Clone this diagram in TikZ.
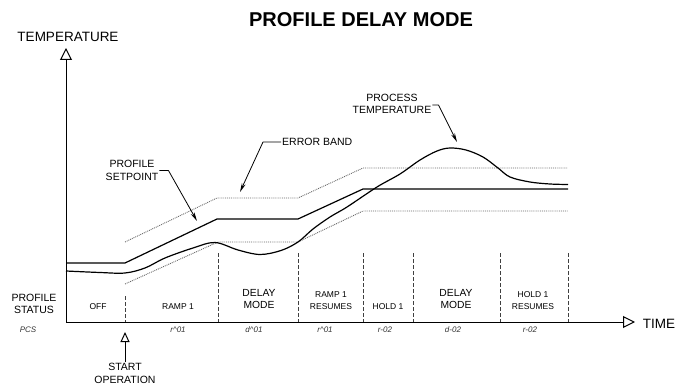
\documentclass[tikz,border=0pt]{standalone}
\usepackage{fontspec}
\setmainfont{Liberation Sans}
\usetikzlibrary{arrows.meta}

\begin{document}
\begin{tikzpicture}[x=1pt, y=-1pt, line join=round,
	axis/.style={line width=1pt, -{Triangle[open, length=12pt, width=12pt]}},
	setpt/.style={line width=1.2pt},
	band/.style={densely dotted, line width=0.9pt, black!60},
	phase/.style={dash pattern=on 4pt off 2pt, line width=1pt, black!75},
	leader/.style={line width=0.8pt, -{Stealth[length=9pt, width=4pt]}},
	lbl/.style={font=\fontsize{10.5}{12.5}\selectfont, align=center, inner sep=1pt},
	stat/.style={font=\fontsize{8.5}{12.5}\selectfont, align=center, inner sep=0pt},
	code/.style={font=\fontsize{8}{9}\selectfont\itshape, text=black!80, inner sep=0pt}]
	
	\useasboundingbox (0,0) rectangle (686,385);
	
	% 1. 标题与坐标轴
	\node[font=\bfseries\fontsize{20}{24}\selectfont] (title) at (361,20) {PROFILE DELAY MODE};
	\coordinate (origin) at (66,322);
	\coordinate (ytop) at (66,48);
	\coordinate (xend) at (635,322);
	\draw[axis] (origin) -- (ytop);
	\draw[axis] (origin) -- (xend);
	\node[font=\fontsize{13.5}{16}\selectfont] (templbl) at (68,37) {TEMPERATURE};
	\node[font=\fontsize{13.5}{16}\selectfont] (timelbl) at (659,324) {TIME};
	
	% 2. 误差带 (虚点线)
	\draw[band] (125,242) -- (217,198) -- (298,198) -- (363,168) -- (568,168);
	\draw[band] (125,284) -- (218,242) -- (298,242) -- (363,211) -- (568,211);
	
	% 3. 设定值与过程温度
	\draw[setpt] (66,263) -- (125,263) -- (217,219) -- (298,219) -- (363,189) -- (568,189);
	\draw[setpt] plot[smooth, tension=0.55] coordinates {
		(66,271) (100,272.5) (125,273) (145,268) (165,258) (193,248) (215,242.5)
		(238,250) (260,254.5) (281,250.5) (298,242) (313,229) (330,217) (347,207)
		(377,187) (400,174) (420,160) (437,151) (450,148) (466,150) (483,157)
		(498,168) (510,177) (530,182) (550,184) (568,184.5)};
	
	% 4. 阶段分隔虚线
	\foreach \xp in {218, 298, 363, 413, 500, 568}
		\draw[phase] (\xp,253) -- (\xp,322);
	\draw[phase] (125,296) -- (125,322);
	
	% 5. 阶段标签与显示代码
	\node[lbl] (statlbl) at (34,304) {PROFILE\\STATUS};
	\node[stat] (off) at (98,307) {OFF};
	\node[stat] (ramp) at (178,307) {RAMP 1};
	\node[stat, font=\fontsize{10.3}{12}\selectfont] (delay) at (259,299) {DELAY\\MODE};
	\node[stat] (rampres) at (331,300.5) {RAMP 1\\RESUMES};
	\node[stat] (hold) at (388,307) {HOLD 1};
	\node[stat, font=\fontsize{10.3}{12}\selectfont] (delaytwo) at (456,299) {DELAY\\MODE};
	\node[stat] (holdres) at (533,300.5) {HOLD 1\\RESUMES};
	
	\node[code] (pcs) at (28,330) {PCS};
	\node[code] (rone) at (178,330) {r\textasciicircum01};
	\node[code] (done) at (254,330) {d\textasciicircum01};
	\node[code] (rtwo) at (325,330) {r\textasciicircum01};
	\node[code] (rthree) at (385,330) {r-02};
	\node[code] (dtwo) at (453,330) {d-02};
	\node[code] (rfour) at (530,330) {r-02};
	
	% 6. 指示箭头
	\node[lbl] (startlbl) at (125,373.5) {START\\OPERATION};
	\coordinate (starttip) at (125,332);
	\draw[line width=1pt, -{Triangle[open, length=10pt, width=9pt]}] (startlbl.north) -- (starttip);
	
	\node[lbl, anchor=west] (errlbl) at (281,142) {ERROR BAND};
	\coordinate (errtip) at (240,192);
	\draw[leader] (errlbl.west) -- ++(-18,0) -- (errtip);
	
	\node[lbl] (splbl) at (132,170.5) {PROFILE\\SETPOINT};
	\coordinate (sptip) at (197,221);
	\draw[leader] (splbl.east) -- ++(9,0) -- (sptip);
	
	\node[lbl] (pvlbl) at (392,104) {PROCESS\\TEMPERATURE};
	\coordinate (pvtip) at (457,142);
	\draw[leader] ([yshift=-1pt]pvlbl.east) -- ++(6,0) -- (pvtip);
\end{tikzpicture}
\end{document}
